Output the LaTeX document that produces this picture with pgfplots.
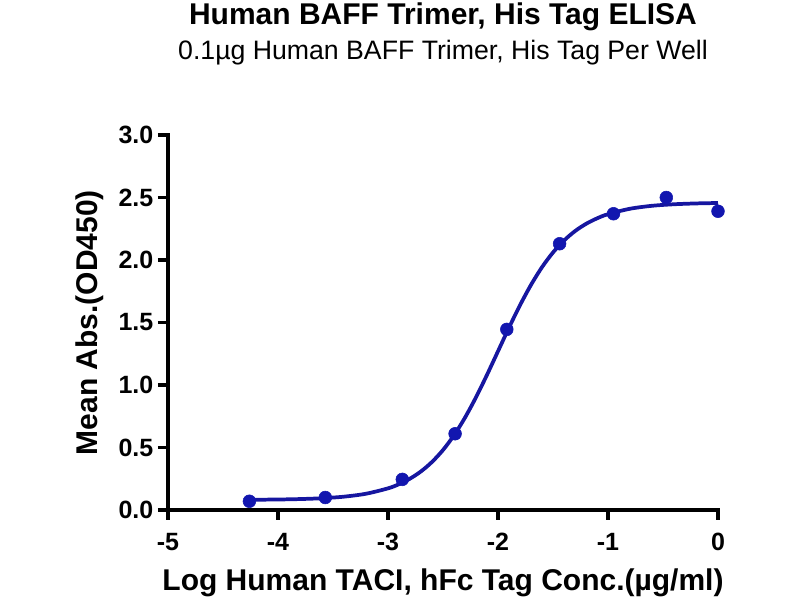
\documentclass[border=0pt]{standalone}
\usepackage{fontspec}
\setmainfont{Liberation Sans}
\usepackage{pgfplots}
\pgfplotsset{compat=1.18}
\definecolor{curveblue}{RGB}{22,22,160}
\definecolor{dotblue}{RGB}{18,22,175}

\begin{document}
\begin{tikzpicture}
\path[use as bounding box] (-126pt,-67.5pt) rectangle (474pt,382.5pt);
\begin{axis}[
    at={(0pt,0pt)}, anchor=south west,
    scale only axis,
    width=412.5pt, height=281.25pt,
    xmin=-5, xmax=0, ymin=0, ymax=3,
    axis lines=left,
    axis line style={line width=2.9pt, -, line cap=rect},
    xtick={-5,-4,-3,-2,-1,0},
    ytick={0,0.5,1,1.5,2,2.5,3},
    /pgf/number format/assume math mode=true,
    tick align=outside,
    major tick length=7.5pt,
    tick style={line width=2.9pt, black},
    minor tick num=0,
    ticklabel style={font=\fontsize{18.75pt}{22pt}\selectfont\bfseries},
    xticklabel style={anchor=base, yshift=-23pt},
    yticklabel style={anchor=east, /pgf/number format/fixed,
        /pgf/number format/fixed zerofill, /pgf/number format/precision=1},
    xlabel={Log Human TACI, hFc Tag Conc.(µg/ml)},
    ylabel={Mean Abs.(OD450)},
    label style={font=\fontsize{22.5pt}{26pt}\selectfont\bfseries},
    xlabel style={at={(rel axis cs:0.5,0)}, anchor=base, yshift=-60pt},
    ylabel style={at={(rel axis cs:-0.1418,0.5)}, anchor=center},
    clip=false,
]
% fitted curve
\addplot[curveblue, line width=2.8pt, smooth, no marks] coordinates {
    (-4.26,0.0817) (-4.0,0.0840) (-3.8,0.0875) (-3.6,0.0941) (-3.4,0.1067)
    (-3.2,0.1301) (-3.0,0.1732) (-2.9,0.2065) (-2.8,0.2508) (-2.7,0.3090)
    (-2.6,0.3844) (-2.5,0.4798) (-2.4,0.5977) (-2.3,0.7390) (-2.2,0.9018)
    (-2.1,1.0813) (-2.0,1.2700) (-1.9,1.4587) (-1.8,1.6382) (-1.7,1.8010)
    (-1.6,1.9424) (-1.5,2.0602) (-1.4,2.1556) (-1.3,2.2310) (-1.2,2.2890)
    (-1.1,2.3330) (-1.0,2.3667) (-0.8,2.4100) (-0.6,2.4336) (-0.4,2.4459)
    (-0.2,2.4525) (0.0,2.4560)
};
% measured points
\addplot[only marks, mark=*, mark size=4.8pt, draw=dotblue, fill=dotblue] coordinates {
    (-4.26,0.07) (-3.57,0.10) (-2.87,0.245) (-2.39,0.61) (-1.92,1.445)
    (-1.44,2.13) (-0.95,2.37) (-0.47,2.50) (0.0,2.39)
};
\node[anchor=base, font=\fontsize{22.5pt}{26pt}\selectfont\bfseries]
    at (rel axis cs:0.5,1) [yshift=82.5pt] {Human BAFF Trimer, His Tag ELISA};
\node[anchor=base, font=\fontsize{20pt}{24pt}\selectfont]
    at (rel axis cs:0.5,1) [yshift=56.25pt] {0.1µg Human BAFF Trimer, His Tag Per Well};
\end{axis}
\end{tikzpicture}
\end{document}
